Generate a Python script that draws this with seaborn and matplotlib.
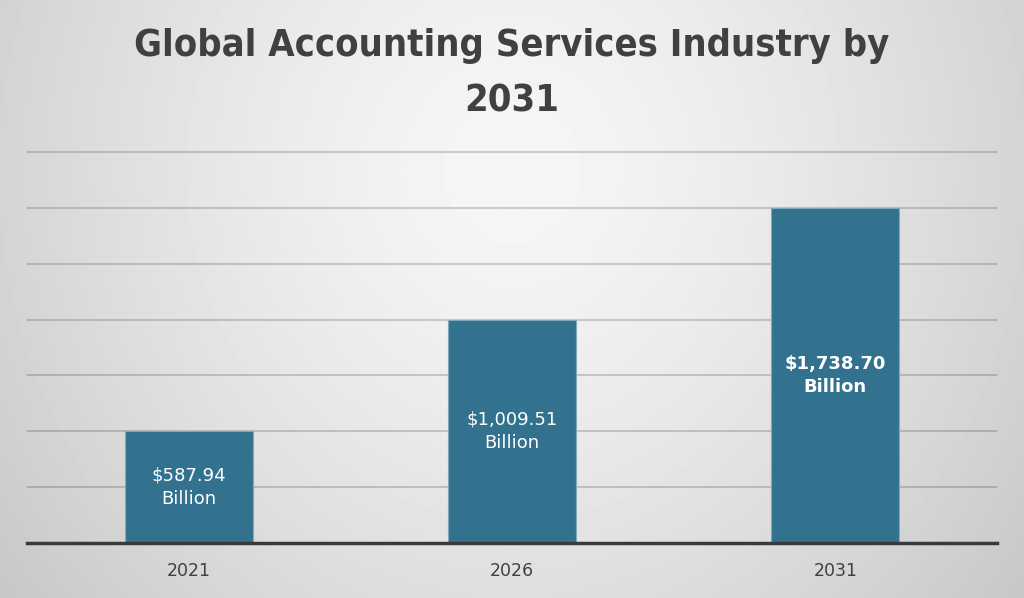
import numpy as np
import pandas as pd
import matplotlib
matplotlib.use('Agg')
import matplotlib.pyplot as plt
import seaborn as sns

years = ['2021', '2026', '2031']
# bar heights as drawn in the picture (grid step 300)
bar_heights = [600, 1200, 1800]
bar_labels = ['$587.94\nBillion', '$1,009.51\nBillion', '$1,738.70\nBillion']
label_bold = [False, False, True]
title = 'Global Accounting Services Industry by\n2031'

df = pd.DataFrame({'year': years, 'value': bar_heights})

sns.set_style('white')
plt.rcParams['font.family'] = ['DejaVu Sans']

fig = plt.figure(figsize=(10.24, 5.98), dpi=100)

# soft radial gray background
bg = fig.add_axes([0, 0, 1, 1], zorder=-1)
yy, xx = np.mgrid[0:598, 0:1024]
d = np.sqrt(((xx - 512) / 560.0) ** 2 + ((yy - 170) / 600.0) ** 2)
shade = np.clip(0.965 - 0.15 * d ** 1.4, 0, 1)
bg.imshow(shade, cmap='gray', vmin=0, vmax=1, aspect='auto', interpolation='bilinear')
bg.axis('off')

ax = fig.add_axes([27 / 1024, 1 - 543 / 598, 970 / 1024, (543 - 152) / 598])
ax.set_facecolor('none')

sns.barplot(data=df, x='year', y='value', color='#33728f', saturation=1,
            width=0.395, edgecolor='#7fa9bd', linewidth=0.8, ax=ax, zorder=3)

ax.set_xlim(-0.5, 2.5)
ax.set_ylim(0, 2100)
ax.set_yticks(np.arange(0, 2101, 300))
ax.yaxis.grid(True, color='black', alpha=0.2, linewidth=1.2, zorder=0)
for gl in ax.get_ygridlines():
    gl.set_clip_on(False)
ax.set_axisbelow(True)
ax.tick_params(axis='y', left=False, labelleft=False)
ax.tick_params(axis='x', bottom=False, labelsize=12.5, labelcolor='#404040', pad=10)
ax.set_xlabel('')
ax.set_ylabel('')
for s in ['left', 'right', 'top']:
    ax.spines[s].set_visible(False)
ax.spines['bottom'].set_color('#3a3a3a')
ax.spines['bottom'].set_linewidth(2.5)
ax.spines['bottom'].set_zorder(4)

for i, (h, lab, b) in enumerate(zip(bar_heights, bar_labels, label_bold)):
    ax.text(i, h / 2, lab, ha='center', va='center', color='white',
            fontsize=13, fontweight='bold' if b else 'normal',
            linespacing=1.35, zorder=5)

fig.text(0.5, 0.953, title, ha='center', va='top', fontsize=27.3,
         fontweight='bold', color='#404040', linespacing=1.68,
         fontstretch='condensed')

fig.savefig('out.png', dpi=100)
